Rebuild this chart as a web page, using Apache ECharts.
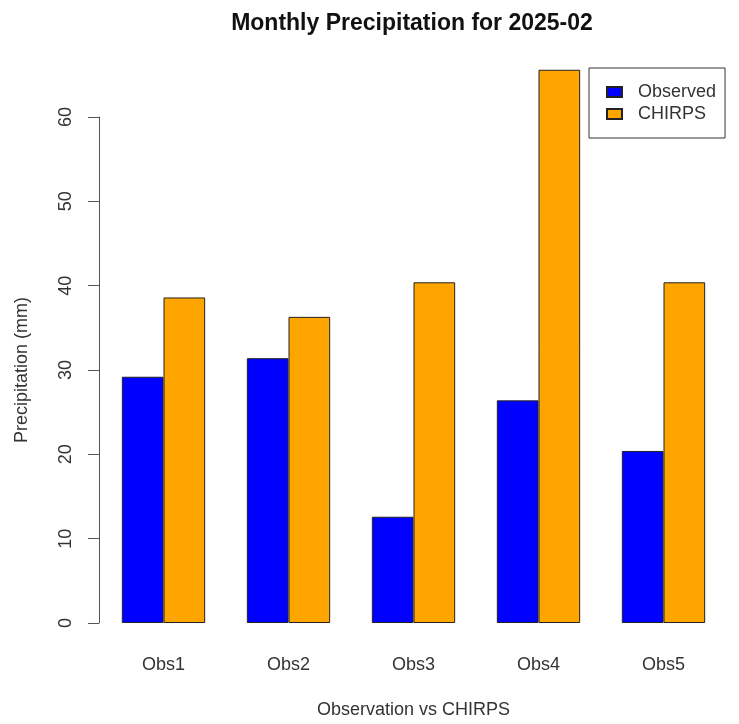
<!DOCTYPE html>
<html>
<head>
<meta charset="utf-8">
<script src="https://cdn.jsdelivr.net/npm/echarts@6/dist/echarts.min.js"></script>
<style>
  html, body { margin: 0; padding: 0; background: #fff; }
  #chart { width: 739px; height: 724px; }
</style>
</head>
<body>
<div id="chart"></div>
<script>
const categories = ["Obs1", "Obs2", "Obs3", "Obs4", "Obs5"];
const observed = [29.2, 31.4, 12.6, 26.4, 20.4];
const chirps = [38.6, 36.3, 40.4, 65.6, 40.4];
const yTicks = [0, 10, 20, 30, 40, 50, 60];

const FONT = "Liberation Sans, Arial, sans-serif";
const TEXT_COLOR = "#333";

const chart = echarts.init(document.getElementById("chart"), null, { renderer: "canvas" });

chart.setOption({
  backgroundColor: "#fff",
  animation: false,
  title: {
    text: "Monthly Precipitation for 2025-02",
    left: 412,
    top: 12,
    padding: 0,
    textAlign: "center",
    textStyle: { fontFamily: FONT, fontSize: 23, fontWeight: "bold", color: "#111" },
  },
  legend: {
    orient: "vertical",
    left: 589,
    top: 68,
    padding: [15, 9, 15, 17],
    itemWidth: 15,
    itemHeight: 10,
    itemGap: 4,
    borderColor: "#333",
    borderWidth: 1,
    icon: "rect",
    textStyle: { fontFamily: FONT, fontSize: 18, color: TEXT_COLOR, padding: [0, 0, 0, 11], lineHeight: 18 },
    data: ["Observed", "CHIRPS"],
  },
  grid: { left: 101, right: 13, top: 117, bottom: 98 },
  xAxis: {
    type: "category",
    data: categories,
    axisLine: { show: false },
    axisTick: { show: false },
    axisLabel: { fontFamily: FONT, fontSize: 18, color: TEXT_COLOR, margin: 33 },
    name: "Observation vs CHIRPS",
    nameLocation: "middle",
    nameGap: 78,
    nameTextStyle: { fontFamily: FONT, fontSize: 18, color: TEXT_COLOR },
  },
  yAxis: {
    type: "value",
    min: yTicks[0],
    max: yTicks[yTicks.length - 1],
    interval: 10,
    offset: 2,
    splitLine: { show: false },
    axisLine: { show: true, lineStyle: { color: "#555", width: 1 } },
    axisTick: { show: true, length: 11, lineStyle: { color: "#555" } },
    axisLabel: { fontFamily: FONT, fontSize: 18, color: TEXT_COLOR, rotate: 90, margin: 24 },
    name: "Precipitation (mm)",
    nameLocation: "middle",
    nameGap: 68,
    nameTextStyle: { fontFamily: FONT, fontSize: 18, color: TEXT_COLOR },
  },
  series: [
    {
      name: "Observed",
      type: "bar",
      data: observed,
      barWidth: "33.33%",
      barGap: "0%",
      clip: false,
      itemStyle: { color: "#0000FF", borderColor: "#222", borderWidth: 1 },
    },
    {
      name: "CHIRPS",
      type: "bar",
      data: chirps,
      barWidth: "33.33%",
      barGap: "0%",
      clip: false,
      itemStyle: { color: "#FFA500", borderColor: "#222", borderWidth: 1 },
    },
  ],
});
</script>
</body>
</html>
